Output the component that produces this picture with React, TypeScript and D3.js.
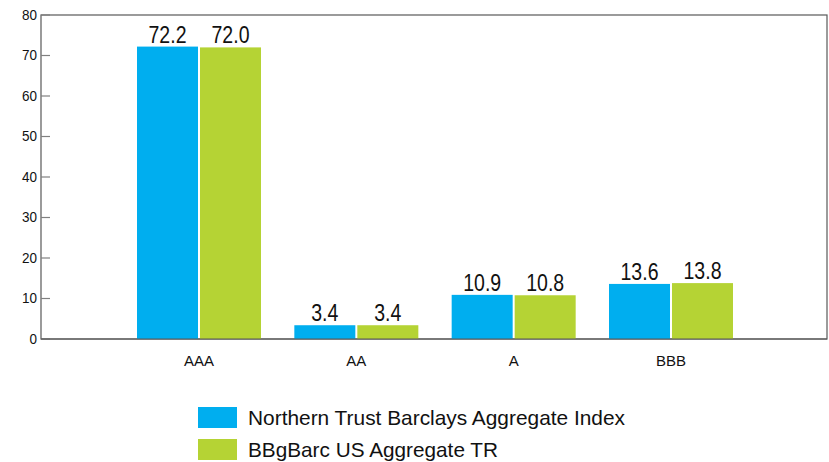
import React from "react";
import * as d3 from "d3";

const categories = ["AAA", "AA", "A", "BBB"];
const seriesNames = ["Northern Trust Barclays Aggregate Index", "BBgBarc US Aggregate TR"];
const northernTrust = [72.2, 3.4, 10.9, 13.6];
const bbgBarc = [72.0, 3.4, 10.8, 13.8];
const yTicks = [0, 10, 20, 30, 40, 50, 60, 70, 80];
const colors = ["#00AEEF", "#B5D334"];

const W = 829;
const H = 462;
const plot = { left: 41, right: 827, top: 15, bottom: 339 };

export default function App() {
  const y = d3.scaleLinear().domain([0, 80]).range([plot.bottom, plot.top]);
  const x = d3.scalePoint<string>().domain(categories).range([199, 671]);
  const barW = 61;
  const gap = 2;
  const series = [northernTrust, bbgBarc];
  const font = "Liberation Sans, Arial, sans-serif";

  return (
    <svg width={W} height={H} style={{ position: "absolute", left: 0, top: 0 }} fontFamily={font}>
      <rect x={0} y={0} width={W} height={H} fill="#fff" />
      {/* frame */}
      <rect x={plot.left} y={plot.top} width={plot.right - plot.left} height={plot.bottom - plot.top}
        fill="none" stroke="#595959" strokeWidth={1.2} />
      {/* y ticks */}
      {yTicks.map((t) => (
        <g key={t}>
          <line x1={plot.left} x2={plot.left + 9} y1={y(t)} y2={y(t)} stroke="#808080" strokeWidth={1.2} />
          <text x={37} y={y(t) + 5} textAnchor="end" fontSize={15} fill="#111"
            transform={`translate(37,0) scale(0.9,1) translate(-37,0)`}>{t}</text>
        </g>
      ))}
      {/* bars */}
      {categories.map((c, i) => {
        const cx = x(c)!;
        return series.map((s, j) => {
          const bx = j === 0 ? cx - gap / 2 - barW : cx + gap / 2;
          const by = y(s[i]);
          const lx = bx + barW / 2;
          return (
            <g key={c + j}>
              <rect x={bx} y={by} width={barW} height={plot.bottom - by} fill={colors[j]} />
              <text x={0} y={0} textAnchor="middle" fontSize={23.5} fill="#111"
                transform={`translate(${lx},${by - 4}) scale(0.83,1)`}>{s[i].toFixed(1)}</text>
            </g>
          );
        });
      })}
      {/* re-draw bottom axis over bars */}
      <line x1={plot.left} x2={plot.right} y1={plot.bottom} y2={plot.bottom} stroke="#595959" strokeWidth={1.2} />
      {/* category labels */}
      {categories.map((c) => (
        <text key={c} x={x(c)!} y={366} textAnchor="middle" fontSize={15} fill="#111">{c}</text>
      ))}
      {/* legend */}
      {seriesNames.map((n, j) => (
        <g key={n}>
          <rect x={198} y={407 + j * 32} width={39} height={21} fill={colors[j]} />
          <text x={248} y={425 + j * 32} fontSize={21} fill="#111"
            textLength={j === 0 ? 377 : 250} lengthAdjust="spacingAndGlyphs">{n}</text>
        </g>
      ))}
    </svg>
  );
}
